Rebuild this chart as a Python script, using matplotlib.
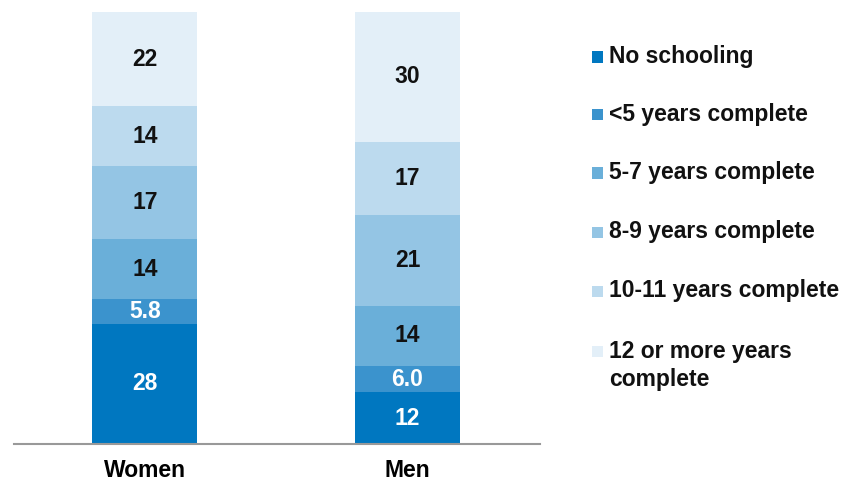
import matplotlib
matplotlib.use("Agg")
import matplotlib.pyplot as plt
from matplotlib.patches import Rectangle

plt.rcParams['font.family'] = ['Liberation Sans', 'DejaVu Sans']

groups = ["Women", "Men"]
categories = ["No schooling", "<5 years complete", "5-7 years complete",
              "8-9 years complete", "10-11 years complete",
              "12 or more years\ncomplete"]
women = [28, 5.8, 14, 17, 14, 22]
men = [12, 6.0, 14, 21, 17, 30]
labels_women = ["28", "5.8", "14", "17", "14", "22"]
labels_men = ["12", "6.0", "14", "21", "17", "30"]

colors = ["#0077C0", "#3B93CD", "#6AAFD9", "#94C5E4", "#BCDAEE", "#E3EFF8"]
text_colors = ["white", "white", "#111111", "#111111", "#111111", "#111111"]

# 100% stacked: normalise each bar to its total
tw, tm = sum(women), sum(men)
women_pct = [v / tw * 100 for v in women]
men_pct = [v / tm * 100 for v in men]

FS = 16.5
W, H = 855, 487
fig = plt.figure(figsize=(W / 100, H / 100), dpi=100)
ax = fig.add_axes([14 / W, (H - 444) / H, (540 - 14) / W, (444 - 12) / H])

x = [0, 1]
bottoms = [0, 0]
for i, cat in enumerate(categories):
    vals = [women_pct[i], men_pct[i]]
    bars = ax.bar(x, vals, bottom=bottoms, width=0.4, color=colors[i],
                  edgecolor="none")
    ax.bar_label(bars, labels=[labels_women[i], labels_men[i]],
                 label_type="center", color=text_colors[i],
                 fontsize=FS, fontweight="bold")
    bottoms = [bottoms[0] + vals[0], bottoms[1] + vals[1]]

ax.set_xlim(-0.499, 1.505)
ax.set_ylim(0, 100)
ax.set_xticks(x)
ax.set_xticklabels(groups, fontsize=FS, fontweight="bold")
ax.tick_params(axis="x", length=0, pad=11)
ax.set_yticks([])
for s in ["top", "right", "left"]:
    ax.spines[s].set_visible(False)
ax.spines["bottom"].set_color("#999999")
ax.spines["bottom"].set_linewidth(1.5)

# legend
ys = [57, 114, 173, 232, 291, 351]
for i, cat in enumerate(categories):
    yc = ys[i]
    fig.add_artist(Rectangle(((592) / W, (H - yc - 5.5) / H), 11 / W, 11 / H,
                             transform=fig.transFigure, color=colors[i], lw=0))
    if "\n" in cat:
        fig.text(609 / W, (H - yc + 11) / H, cat, fontsize=FS, fontweight="bold",
                 va="top", ha="left", color="#111111", linespacing=1.3)
    else:
        fig.text(609 / W, (H - yc) / H, cat, fontsize=FS, fontweight="bold",
                 va="center", ha="left", color="#111111")

fig.savefig("out.png", dpi=100)
